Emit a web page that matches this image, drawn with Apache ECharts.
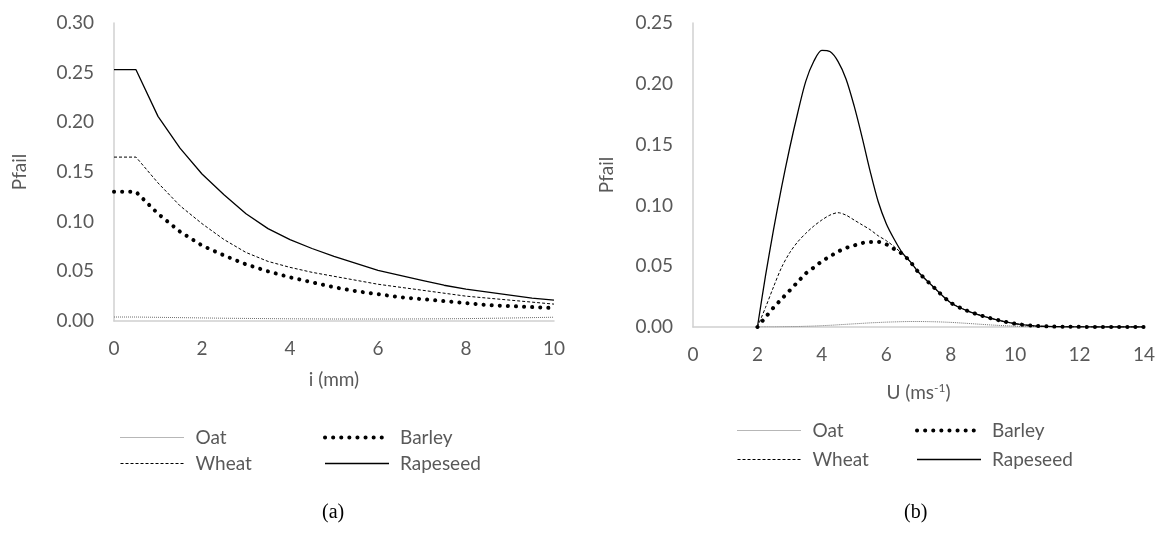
<!DOCTYPE html>
<html>
<head>
<meta charset="utf-8">
<title>Pfail</title>
<script src="https://cdn.jsdelivr.net/npm/echarts@6/dist/echarts.min.js"></script>
<style>
  html, body { margin: 0; padding: 0; background: #fff; }
  #main { width: 1160px; height: 538px; }
</style>
</head>
<body>
<div id="main"></div>
<script>
// (a) Pfail against i (mm)
var iVals = [0, 0.5, 1, 1.5, 2, 2.5, 3, 3.5, 4, 4.5, 5, 5.5, 6, 6.5, 7, 7.5, 8, 8.5, 9, 9.5, 10];
var oatA = [0.004, 0.004, 0.0037, 0.0034, 0.0031, 0.0028, 0.0026, 0.0024, 0.0022, 0.0021, 0.002, 0.002, 0.002, 0.002, 0.0021, 0.0022, 0.0024, 0.0027, 0.003, 0.0034, 0.0038];
var barleyA = [0.130, 0.130, 0.108, 0.090, 0.076, 0.066, 0.057, 0.050, 0.044, 0.039, 0.034, 0.030, 0.027, 0.024, 0.022, 0.020, 0.018, 0.016, 0.015, 0.014, 0.013];
var wheatA = [0.165, 0.165, 0.139, 0.116, 0.098, 0.082, 0.069, 0.060, 0.054, 0.049, 0.045, 0.041, 0.037, 0.034, 0.031, 0.028, 0.025, 0.023, 0.021, 0.019, 0.017];
var rapeA = [0.253, 0.253, 0.206, 0.174, 0.148, 0.127, 0.108, 0.093, 0.082, 0.073, 0.065, 0.058, 0.051, 0.046, 0.041, 0.036, 0.032, 0.029, 0.026, 0.023, 0.021];

// (b) Pfail against U (ms-1)
var uVals = [2, 2.25, 2.5, 2.75, 3, 3.25, 3.5, 3.75, 4, 4.25, 4.5, 4.75, 5, 5.25, 5.5, 5.75, 6, 6.25, 6.5, 6.75, 7,
             7.5, 8, 8.5, 9, 9.5, 10, 10.5, 11, 11.5, 12, 12.5, 13, 13.5, 14];
var oatB = [0, 0.0001, 0.0001, 0.0002, 0.0003, 0.0004, 0.0006, 0.0008, 0.0011, 0.0014, 0.0018, 0.0022, 0.0026, 0.003, 0.0034, 0.0037, 0.004, 0.0042, 0.0044, 0.0045, 0.0045,
            0.0043, 0.0038, 0.003, 0.0021, 0.0013, 0.0007, 0.0003, 0.0001, 0, 0, 0, 0, 0, 0];
var barleyB = [0, 0.008, 0.016, 0.023, 0.030, 0.037, 0.044, 0.049, 0.054, 0.058, 0.062, 0.065, 0.067, 0.069, 0.070, 0.070, 0.068, 0.064, 0.060, 0.0535, 0.045,
               0.032, 0.020, 0.0135, 0.009, 0.0055, 0.0027, 0.0012, 0.0005, 0.0002, 0.0001, 0, 0, 0, 0];
var wheatB = [0, 0.016, 0.033, 0.049, 0.061, 0.070, 0.077, 0.083, 0.088, 0.092, 0.094, 0.092, 0.088, 0.084, 0.080, 0.075, 0.071, 0.066, 0.060, 0.0535, 0.045,
              0.032, 0.020, 0.0135, 0.009, 0.0055, 0.0027, 0.0012, 0.0005, 0.0002, 0.0001, 0, 0, 0, 0];
var rapeB = [0, 0.042, 0.080, 0.115, 0.147, 0.176, 0.202, 0.2185, 0.2275, 0.2265, 0.2185, 0.204, 0.182, 0.156, 0.128, 0.103, 0.085, 0.072, 0.061, 0.0535, 0.045,
             0.032, 0.020, 0.0135, 0.009, 0.0055, 0.0027, 0.0012, 0.0005, 0.0002, 0.0001, 0, 0, 0, 0];

var FONT = 'Lato';
var GREY = '#595959';

var styles = {
    Oat: { color: '#6f6f6f', width: 1, type: [1, 1] },
    Barley: { color: '#000', width: 4, type: [0.1, 8], cap: 'round' },
    Wheat: { color: '#000', width: 1, type: [3, 2] },
    Rapeseed: { color: '#000', width: 1.3, type: 'solid' }
};

function pairs(xs, ys) {
    var out = [];
    for (var i = 0; i < xs.length; i++) out.push([xs[i], ys[i]]);
    return out;
}

function line(name, xs, ys, idx, smooth) {
    return {
        name: name,
        type: 'line',
        xAxisIndex: idx,
        yAxisIndex: idx,
        data: pairs(xs, ys),
        symbol: 'none',
        smooth: smooth,
        lineStyle: styles[name],
        z: name === 'Oat' ? 1 : 2,
        silent: true
    };
}

// one legend per column so the two columns line up like the original
function legendCol(names, left, top, gap) {
    return {
        orient: 'vertical',
        left: left,
        top: top,
        padding: 0,
        itemWidth: 64,
        itemHeight: 14,
        itemGap: gap,
        selectedMode: false,
        textStyle: { fontFamily: FONT, fontSize: 19, color: GREY, padding: [0, 0, 0, 6] },
        data: names.map(function (n) {
            return { name: n, lineStyle: styles[n], itemStyle: { opacity: 0 } };
        })
    };
}

var axisLabel = { fontFamily: FONT, fontSize: 19, color: GREY, margin: 18 };
var axisLine = { show: true, lineStyle: { color: '#d0d0d0', width: 1.5 } };
var nameStyle = { fontFamily: FONT, fontSize: 19, color: GREY };
var fmt = function (v) { return v.toFixed(2); };

var option = {
    animation: false,
    backgroundColor: '#fff',
    grid: [
        { left: 114, right: 606, top: 23, bottom: 217 },
        { left: 693, right: 16, top: 23, bottom: 211 }
    ],
    xAxis: [{
        gridIndex: 0, type: 'value', min: 0, max: 10, interval: 2,
        name: 'i (mm)', nameLocation: 'middle', nameGap: 49, nameTextStyle: nameStyle,
        axisLine: axisLine, axisTick: { show: false }, splitLine: { show: false },
        axisLabel: axisLabel
    }, {
        gridIndex: 1, type: 'value', min: 0, max: 14, interval: 2,
        name: 'U (ms{sup|-1})', nameLocation: 'middle', nameGap: 55,
        nameTextStyle: {
            fontFamily: FONT, fontSize: 19, color: GREY,
            rich: { sup: { fontFamily: FONT, fontSize: 12, color: GREY, verticalAlign: 'top', padding: [0, 0, 10, 0] } }
        },
        axisLine: axisLine, axisTick: { show: false }, splitLine: { show: false },
        axisLabel: axisLabel
    }],
    yAxis: [{
        gridIndex: 0, type: 'value', min: 0, max: 0.3, interval: 0.05,
        name: 'Pfail', nameLocation: 'middle', nameGap: 85, nameTextStyle: nameStyle,
        axisLine: axisLine, axisTick: { show: false }, splitLine: { show: false },
        axisLabel: Object.assign({}, axisLabel, { margin: 20, formatter: fmt })
    }, {
        gridIndex: 1, type: 'value', min: 0, max: 0.25, interval: 0.05,
        name: 'Pfail', nameLocation: 'middle', nameGap: 77, nameTextStyle: nameStyle,
        axisLine: axisLine, axisTick: { show: false }, splitLine: { show: false },
        axisLabel: Object.assign({}, axisLabel, { margin: 20, formatter: fmt })
    }],
    legend: [
        legendCol(['Oat', 'Wheat'], 120, 428, 7),
        legendCol(['Barley', 'Rapeseed'], 323, 428, 7),
        legendCol(['Oat', 'Wheat'], 737, 421, 10),
        legendCol(['Barley', 'Rapeseed'], 915, 421, 10)
    ],
    graphic: [
        { type: 'text', left: 322, top: 503, style: { text: '(a)', font: '20px "Liberation Serif"', fill: '#000' } },
        { type: 'text', left: 904, top: 503, style: { text: '(b)', font: '20px "Liberation Serif"', fill: '#000' } }
    ],
    series: [
        line('Oat', iVals, oatA, 0, false),
        line('Wheat', iVals, wheatA, 0, false),
        line('Barley', iVals, barleyA, 0, false),
        line('Rapeseed', iVals, rapeA, 0, false),
        line('Oat', uVals, oatB, 1, 0.3),
        line('Wheat', uVals, wheatB, 1, 0.3),
        line('Barley', uVals, barleyB, 1, 0.3),
        line('Rapeseed', uVals, rapeB, 1, 0.3)
    ]
};

var chart = echarts.init(document.getElementById('main'), null, { renderer: 'canvas' });
chart.setOption(option);
</script>
</body>
</html>
